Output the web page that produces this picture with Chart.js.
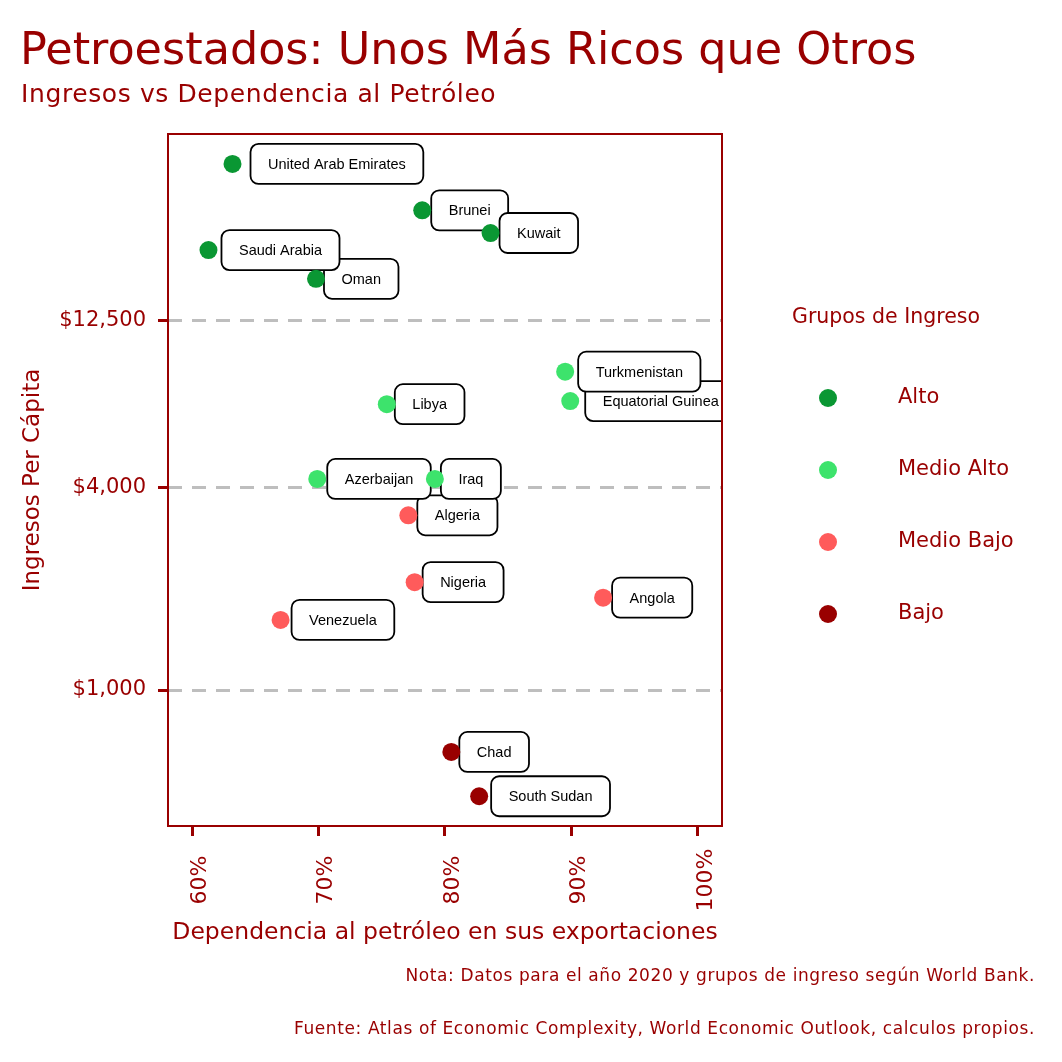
<!DOCTYPE html>
<html lang="es">
<head>
<meta charset="utf-8">
<title>Petroestados</title>
<script src="https://cdn.jsdelivr.net/npm/chart.js@4.4.1/dist/chart.umd.min.js"></script>
<style>
  html, body { margin: 0; padding: 0; background: #fff; }
  #wrap { position: relative; width: 1062px; height: 1062px; overflow: hidden; }
  #chart { position: absolute; left: 0; top: 0; }
  .txt { position: absolute; color: #990000; font-family: 'DejaVu Sans', sans-serif; white-space: nowrap; line-height: 1; }
  #title { left: 20px; top: 27px; font-size: 44.5px; }
  #subtitle { left: 21px; top: 81px; font-size: 25px; letter-spacing: 0.6px; }
  .caption { right: 27px; font-size: 17px; letter-spacing: 0.6px; }
  #note { top: 967px; }
  #source { top: 1020px; }
</style>
</head>
<body>
<div id="wrap">
  <canvas id="chart" width="1062" height="1062"></canvas>
  <div class="txt" id="title">Petroestados: Unos Más Ricos que Otros</div>
  <div class="txt" id="subtitle">Ingresos vs Dependencia al Petróleo</div>
  <div class="txt caption" id="note">Nota: Datos para el año 2020 y grupos de ingreso según World Bank.</div>
  <div class="txt caption" id="source">Fuente: Atlas of Economic Complexity, World Economic Outlook, calculos propios.</div>
</div>
<script>
const countries = ['United Arab Emirates', 'Oman', 'Saudi Arabia', 'Brunei', 'Kuwait',
  'Equatorial Guinea', 'Turkmenistan', 'Libya', 'Algeria', 'Azerbaijan', 'Iraq',
  'Nigeria', 'Angola', 'Venezuela', 'Chad', 'South Sudan'];
const oilShare = [63.2, 69.8, 61.3, 78.2, 83.6, 89.9, 89.5, 75.4, 77.1, 69.9, 79.2, 77.6, 92.5, 67.0, 80.5, 82.7];
const incomePerCapita = [36400, 16600, 20200, 26500, 22700, 7200, 8800, 7050, 3300, 4230, 4230, 2090, 1880, 1615, 655, 484];
const incomeGroup = ['Alto', 'Alto', 'Alto', 'Alto', 'Alto',
  'Medio Alto', 'Medio Alto', 'Medio Alto', 'Medio Bajo', 'Medio Alto', 'Medio Alto',
  'Medio Bajo', 'Medio Bajo', 'Medio Bajo', 'Bajo', 'Bajo'];
const groups = ['Alto', 'Medio Alto', 'Medio Bajo', 'Bajo'];
const groupColors = ['#0a9733', '#3de36c', '#ff5b5b', '#990000'];
const xTicks = [60, 70, 80, 90, 100];
const yTicks = [1000, 4000, 12500];

// gap in px between a point and the left side of its label box
const labelGap = [18, 8, 13, 9, 9, 15, 13, 8, 9, 10, 6, 8, 9, 11, 8, 12];

const RED = '#990000';
const FONT = "'DejaVu Sans', sans-serif";

const datasets = groups.map((g, gi) => ({
  label: g,
  data: countries
    .map((c, i) => ({ x: oilShare[i], y: incomePerCapita[i], name: c }))
    .filter((p, i) => incomeGroup[i] === g),
  backgroundColor: groupColors[gi],
  borderWidth: 0,
  pointRadius: 9,
  pointHoverRadius: 9
}));

// boxed country names, drawn under the points
const countryLabels = {
  id: 'countryLabels',
  beforeDatasetsDraw(chart) {
    const { ctx, chartArea: a, scales: { x, y } } = chart;
    ctx.save();
    ctx.beginPath();
    ctx.rect(a.left, a.top, a.right - a.left, a.bottom - a.top);
    ctx.clip();
    ctx.font = "14.5px 'Liberation Sans', Arial, sans-serif";
    ctx.textAlign = 'center';
    ctx.textBaseline = 'middle';
    countries.forEach((name, i) => {
      const px = x.getPixelForValue(oilShare[i]);
      const py = y.getPixelForValue(incomePerCapita[i]);
      const w = ctx.measureText(name).width + 35;
      const h = 40;
      const bx = px + labelGap[i];
      ctx.beginPath();
      ctx.roundRect(bx, py - h / 2, w, h, 8);
      ctx.fillStyle = '#fff';
      ctx.fill();
      ctx.lineWidth = 1.8;
      ctx.strokeStyle = '#000';
      ctx.stroke();
      ctx.fillStyle = '#000';
      ctx.fillText(name, bx + w / 2, py + 1);
    });
    ctx.restore();
  }
};

// panel frame, vertical x tick labels and legend
const frameAndLegend = {
  id: 'frameAndLegend',
  afterDraw(chart) {
    const { ctx, chartArea: a, scales: { x } } = chart;
    ctx.save();
    ctx.strokeStyle = RED;
    ctx.lineWidth = 2;
    ctx.strokeRect(a.left, a.top, a.right - a.left, a.bottom - a.top);

    ctx.fillStyle = RED;
    ctx.textAlign = 'center';
    ctx.textBaseline = 'middle';
    ctx.font = '22px ' + FONT;
    x.ticks.forEach(t => {
      ctx.save();
      ctx.translate(x.getPixelForValue(t.value) + 8, a.bottom + 54);
      ctx.rotate(-Math.PI / 2);
      ctx.fillText(t.value + '%', 0, 0);
      ctx.restore();
    });

    const lx = a.right + 70;
    ctx.textAlign = 'left';
    ctx.font = '20.5px ' + FONT;
    ctx.fillText('Grupos de Ingreso', lx, 318);
    ctx.font = '21px ' + FONT;
    groups.forEach((g, i) => {
      const cy = 398 + i * 72;
      ctx.beginPath();
      ctx.arc(lx + 36, cy, 9, 0, Math.PI * 2);
      ctx.fillStyle = groupColors[i];
      ctx.fill();
      ctx.fillStyle = RED;
      ctx.fillText(g, lx + 106, cy);
    });
    ctx.restore();
  }
};

new Chart(document.getElementById('chart').getContext('2d'), {
  type: 'scatter',
  data: { datasets },
  options: {
    responsive: false,
    animation: false,
    devicePixelRatio: 1,
    layout: { padding: { top: 134, right: 340, left: 0, bottom: 0 } },
    plugins: {
      legend: { display: false },
      tooltip: { enabled: false }
    },
    scales: {
      x: {
        type: 'linear',
        min: 58.1,
        max: 101.9,
        afterBuildTicks: s => { s.ticks = xTicks.map(v => ({ value: v })); },
        afterFit: s => { s.height = 236; },
        ticks: { display: false },
        grid: { drawOnChartArea: false, tickColor: RED, tickLength: 10, tickWidth: 3 },
        border: { display: false },
        title: {
          display: true,
          text: 'Dependencia al petróleo en sus exportaciones',
          color: RED,
          font: { family: FONT, size: 23.5 },
          padding: { top: 0, bottom: 115 }
        }
      },
      y: {
        type: 'logarithmic',
        min: 395,
        max: 44650,
        bounds: 'data',
        afterBuildTicks: s => { s.ticks = yTicks.map(v => ({ value: v })); },
        afterFit: s => { s.width = 168; },
        ticks: {
          color: RED,
          font: { family: FONT, size: 21 },
          padding: 12,
          callback: v => '$' + Number(v).toLocaleString('en-US')
        },
        grid: { color: '#bebebe', lineWidth: 3, tickColor: RED, tickLength: 10, tickWidth: 3 },
        border: { display: false, dash: [14, 10] },
        title: {
          display: true,
          text: 'Ingresos Per Cápita',
          color: RED,
          font: { family: FONT, size: 23 },
          padding: { top: 19, bottom: 0 }
        }
      }
    }
  },
  plugins: [countryLabels, frameAndLegend]
});
</script>
</body>
</html>
